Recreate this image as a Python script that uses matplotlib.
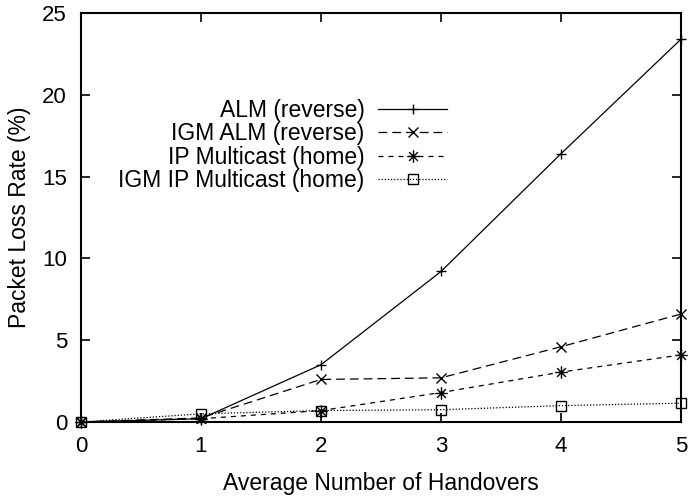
import matplotlib
matplotlib.use("Agg")
import matplotlib.pyplot as plt
from matplotlib.path import Path

plt.rcParams['font.family'] = ['Liberation Sans', 'DejaVu Sans']
plt.rcParams['font.size'] = 16

handovers = [0, 1, 2, 3, 4, 5]
alm_reverse = [0.0, 0.2, 3.5, 9.2, 16.4, 23.4]
igm_alm_reverse = [0.0, 0.25, 2.6, 2.7, 4.6, 6.6]
ip_multicast_home = [0.0, 0.2, 0.7, 1.8, 3.05, 4.1]
igm_ip_multicast_home = [0.0, 0.5, 0.7, 0.75, 1.0, 1.15]
labels = ["ALM (reverse)", "IGM ALM (reverse)", "IP Multicast (home)", "IGM IP Multicast (home)"]
xticks = [0, 1, 2, 3, 4, 5]
yticks = [0, 5, 10, 15, 20, 25]

star = Path([(-1, 0), (1, 0), (0, -1), (0, 1), (-0.7, -0.7), (0.7, 0.7), (-0.7, 0.7), (0.7, -0.7)],
            [Path.MOVETO, Path.LINETO] * 4)

fig = plt.figure(figsize=(6.88, 4.96), dpi=100)
ax = fig.add_axes([81/688, 1-422/496, 600/688, 409/496])

lw = 0.9
ax.plot(handovers, alm_reverse, color='black', lw=lw, marker='+', markersize=7.5, mew=1, label=labels[0],
        clip_on=False)
ax.plot(handovers, igm_alm_reverse, color='black', lw=lw, ls=(0, (7, 4)), marker='x', markersize=7, mew=1,
        label=labels[1], clip_on=False)
ax.plot(handovers, ip_multicast_home, color='black', lw=lw, ls=(0, (4, 4)), marker=star, markersize=9, mew=1,
        label=labels[2], clip_on=False)
ax.plot(handovers, igm_ip_multicast_home, color='black', lw=lw, ls=(0, (1, 1.5)), marker='s', markersize=7.5,
        mfc='none', mew=1, label=labels[3], clip_on=False)

ax.set_xlim(0, 5)
ax.set_ylim(0, 25)
ax.set_xticks(xticks)
ax.set_yticks(yticks)
ax.tick_params(direction='in', top=True, right=True, length=6.5, width=1.2, labelsize=16)
ax.tick_params(axis='x', pad=10)
ax.tick_params(axis='y', pad=10)
for s in ax.spines.values():
    s.set_linewidth(1.5)
ax.set_xlabel("Average Number of Handovers", fontsize=16.5, labelpad=11)
ax.set_ylabel("Packet Loss Rate (%)", fontsize=16.5, labelpad=8)

ax.legend(loc='upper right', bbox_to_anchor=(0.61, 0.79), markerfirst=False, frameon=False,
          fontsize=16.5, handlelength=3.0, handletextpad=0.6, labelspacing=0.02,
          borderaxespad=0, borderpad=0)

fig.savefig("out.png", dpi=100)
